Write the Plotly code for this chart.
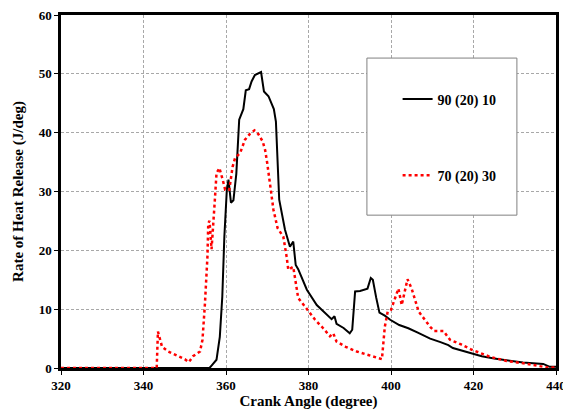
import plotly.graph_objects as go

# Series 1: 90 (20) 10
x_black = [320, 356.0, 356.6, 357.7, 358.5, 359.1, 359.6, 360.2, 360.6, 361.2, 361.8, 362.5, 363.2,
           364.2, 364.8, 365.6, 366.2, 367.0, 368.5, 369.2, 370.3, 371.1, 371.6, 372.1, 372.9,
           374.3, 375.5, 376.3, 376.9, 377.5, 379.6, 382.0, 383.6, 385.6, 386.3, 386.8, 388.5,
           390.0, 390.6, 391.3, 392.5, 394.3, 395.1, 395.6, 396.4, 397.2, 398.5, 399.8, 402.0,
           404.2, 406.5, 409.5, 412.0, 413.9, 415.0, 417.0, 419.6, 422.0, 425.0, 428.8, 432.0,
           436.9, 438.5, 440]
y_black = [0, 0, 0.5, 1.4, 5.3, 12.1, 22.3, 30.3, 32.0, 28.1, 28.5, 33.0, 42.2,
           44.0, 47.2, 47.4, 48.7, 49.8, 50.3, 47.0, 46.2, 45.0, 44.0, 41.9, 28.6,
           23.5, 20.6, 21.5, 17.5, 16.8, 13.3, 10.7, 9.6, 8.3, 8.8, 7.5, 6.8,
           5.9, 6.5, 13.0, 13.1, 13.5, 15.3, 15.0, 12.0, 9.4, 8.9, 8.2, 7.3,
           6.75, 6.0, 5.0, 4.4, 3.9, 3.4, 3.0, 2.5, 2.0, 1.6, 1.25, 0.95,
           0.7, 0.2, 0.2]

# Series 2: 70 (20) 30
x_red = [320, 343.2, 343.5, 344.0, 344.5, 346.0, 348.0, 350.0, 351.0, 352.0, 353.7, 354.3,
         354.9, 355.5, 355.7, 356.0, 356.5, 356.8, 357.3, 357.7, 358.4, 359.2, 359.8, 360.8,
         361.6, 362.2, 363.4, 364.6, 365.8, 366.9, 367.8, 368.9, 369.5, 370.0, 370.7, 371.5,
         372.5, 373.9, 374.7, 375.1, 376.3, 377.5, 379.2, 381.6, 383.5, 385.2, 386.0, 386.8,
         389.0, 391.7, 394.5, 397.8, 398.5, 399.2, 400.0, 401.8, 402.6, 403.2, 404.0, 405.0,
         406.7, 409.5, 410.5, 412.7, 414.3, 417.0, 419.6, 424.0, 428.0, 432.1, 435.0, 437.8, 440]
y_red = [0, 0, 6.2, 4.8, 3.6, 2.8, 2.2, 1.5, 1.0, 2.0, 2.8, 4.8,
         11.0, 18.9, 24.6, 25.0, 20.2, 23.0, 28.6, 33.1, 34.0, 32.0, 30.3, 30.3,
         34.2, 35.7, 36.5, 38.8, 39.8, 40.4, 39.8, 38.5, 37.0, 34.8, 30.8, 26.9,
         23.8, 22.3, 18.9, 16.7, 17.2, 11.9, 10.4, 8.2, 6.8, 5.4, 5.9, 4.5,
         3.6, 2.8, 2.2, 1.5, 7.0, 9.6, 9.9, 13.5, 10.7, 12.5, 15.1, 13.5,
         9.6, 7.0, 6.3, 6.3, 4.8, 4.0, 3.1, 1.9, 1.2, 0.8, 0.4, 0.1, 0.1]

x_ticks = [320, 340, 360, 380, 400, 420, 440]
y_ticks = [0, 10, 20, 30, 40, 50, 60]

FONT = "Liberation Serif"

fig = go.Figure()
fig.add_trace(go.Scatter(x=x_black, y=y_black, mode="lines", name="90 (20) 10",
                         legendgroup="a",
                         line=dict(color="black", width=2)))
fig.add_trace(go.Scatter(x=x_red, y=y_red, mode="lines", name="70 (20) 30",
                         legendgroup="b",
                         line=dict(color="red", width=2.5, dash="dot")))

axis_common = dict(showline=True, linecolor="black", linewidth=2.5, mirror=True,
                   showgrid=True, gridcolor="#a8a8a8", griddash="3px,2px", gridwidth=1,
                   zeroline=False, ticks="outside", ticklen=4, tickcolor="black",
                   automargin=False, ticklabeloverflow="allow",
                   tickfont=dict(family=FONT, size=13, color="black", weight="bold"))

fig.update_xaxes(range=[320, 440], tickvals=x_ticks,
                 title=dict(text="Crank Angle (degree)", standoff=4,
                            font=dict(family=FONT, size=15, color="black", weight="bold")),
                 **axis_common)
fig.update_yaxes(range=[0, 60], tickvals=y_ticks,
                 title=dict(text="Rate of Heat Release (J/deg)", standoff=12,
                            font=dict(family=FONT, size=15, color="black", weight="bold")),
                 **axis_common)

fig.add_shape(type="rect", xref="paper", yref="paper", x0=0.618, x1=0.921, y0=0.433, y1=0.878,
              line=dict(color="#808080", width=1), fillcolor="white", layer="above")

fig.update_layout(
    width=563, height=414,
    margin=dict(l=61, r=7, t=15, b=46),
    paper_bgcolor="white", plot_bgcolor="white",
    showlegend=True,
    legend=dict(x=0.68, y=0.806, xanchor="left", yanchor="top",
                bgcolor="rgba(0,0,0,0)", borderwidth=0,
                tracegroupgap=55, itemwidth=30,
                font=dict(family=FONT, size=14, color="black", weight="bold")),
)

fig.write_html("out.html")
